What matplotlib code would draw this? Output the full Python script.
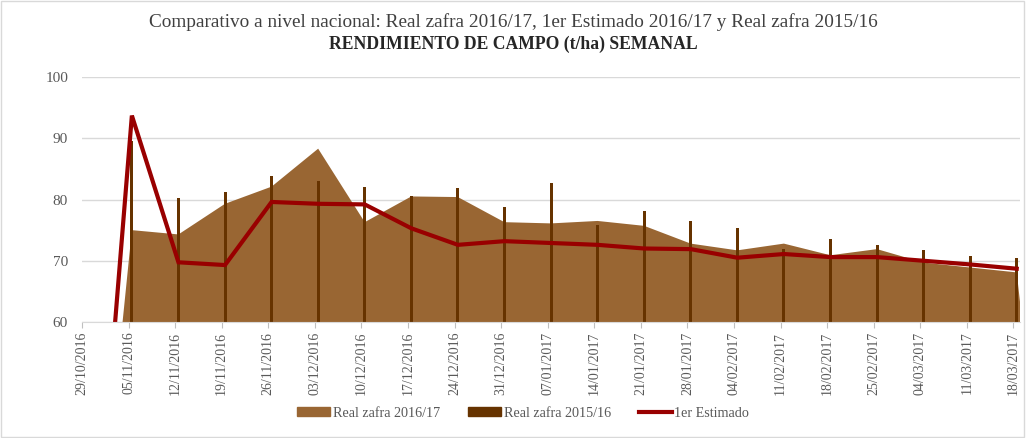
import numpy as np
import pandas as pd
import matplotlib
matplotlib.use("Agg")
import matplotlib.pyplot as plt
import matplotlib.dates as mdates
from matplotlib.patches import Rectangle, Patch
from matplotlib.lines import Line2D

plt.rcParams['font.family'] = ['Liberation Serif', 'DejaVu Serif']

# semanas (eje de fechas)
fechas = ["29/10/2016", "05/11/2016", "12/11/2016", "19/11/2016", "26/11/2016",
          "03/12/2016", "10/12/2016", "17/12/2016", "24/12/2016", "31/12/2016",
          "07/01/2017", "14/01/2017", "21/01/2017", "28/01/2017", "04/02/2017",
          "11/02/2017", "18/02/2017", "25/02/2017", "04/03/2017", "11/03/2017",
          "18/03/2017"]
# semana siguiente (sin dato, cae a 0)
fecha_siguiente = "25/03/2017"

# rendimiento t/ha
real_1617 = [0, 75.0, 74.3, 79.3, 82.1, 88.3, 76.3, 80.5, 80.4, 76.3, 76.1,
             76.5, 75.7, 72.8, 71.7, 72.8, 70.9, 71.9, 69.7, 68.9, 68.1]
real_1617_siguiente = 0
real_1516 = [0, 89.5, 80.2, 81.3, 83.9, 83.0, 82.0, 80.5, 81.9, 78.8, 82.7,
             75.8, 78.2, 76.5, 75.4, 72.0, 73.5, 72.5, 71.7, 70.7, 70.4]
estimado = [0, 93.7, 69.75, 69.3, 79.6, 79.3, 79.2, 75.3, 72.6, 73.2, 72.9,
            72.6, 72.0, 71.9, 70.5, 71.1, 70.6, 70.6, 70.0, 69.4, 68.7]

c_area = '#996633'
c_bar = '#663300'
c_line = '#990000'
c_text = '#595959'
c_grid = '#d9d9d9'

dias = mdates.date2num(pd.to_datetime(fechas, format="%d/%m/%Y"))
dia_sig = mdates.date2num(pd.to_datetime(fecha_siguiente, format="%d/%m/%Y"))
x = dias + 0.5  # centro del dia (eje de fechas de Excel)

fig = plt.figure(figsize=(10.26, 4.38), dpi=100)
ax = fig.add_axes([0.0799, 0.2648, 0.9143, 0.5594])

x_area = np.append(x, dia_sig + 0.5)
y_area = np.append(real_1617, real_1617_siguiente)
ax.fill_between(x_area, 0, y_area, color=c_area, lw=0, zorder=2)
ax.bar(x, real_1516, width=0.45, bottom=0, color=c_bar, zorder=3)
ax.plot(x, estimado, color=c_line, lw=3, zorder=4, solid_joinstyle='miter')

ax.set_ylim(60, 100)
ax.set_yticks([60, 70, 80, 90, 100])
ax.set_xlim(dias[0], dias[-1] + 1)
ax.set_xticks(dias)
ax.set_xticklabels(fechas, rotation=90)

ax.grid(axis='y', color=c_grid, lw=1)
ax.set_axisbelow(True)
for s in ['top', 'right', 'left']:
    ax.spines[s].set_visible(False)
ax.spines['bottom'].set_color(c_grid)
ax.spines['bottom'].set_zorder(5)
ax.tick_params(axis='y', length=0, labelsize=11, labelcolor=c_text, pad=10)
ax.tick_params(axis='x', length=4, color='#bfbfbf', labelsize=10, labelcolor=c_text, pad=3)

fig.text(0.5, 0.95, "Comparativo a nivel nacional: Real zafra 2016/17, 1er Estimado 2016/17 y Real zafra 2015/16",
         ha='center', va='center', fontsize=13.9, color='#404040')
fig.text(0.5, 0.898, "RENDIMIENTO DE CAMPO (t/ha) SEMANAL",
         ha='center', va='center', fontsize=12.7, fontweight='bold', color='#262626')

handles = [Patch(color=c_area), Patch(color=c_bar), Line2D([], [], color=c_line, lw=3)]
labels = ["Real zafra 2016/17", "Real zafra 2015/16", "1er Estimado"]
leg = fig.legend(handles, labels, loc='center', bbox_to_anchor=(0.51, 0.057), ncol=3,
                 frameon=False, fontsize=10.2, handlelength=2.3, handleheight=0.5,
                 columnspacing=2.0, handletextpad=0.2, labelcolor=c_text)

fig.patches.append(Rectangle((0.001, 0.002), 0.997, 0.996, transform=fig.transFigure,
                             fill=False, edgecolor=c_grid, lw=1))

fig.savefig("out.png", dpi=100)
